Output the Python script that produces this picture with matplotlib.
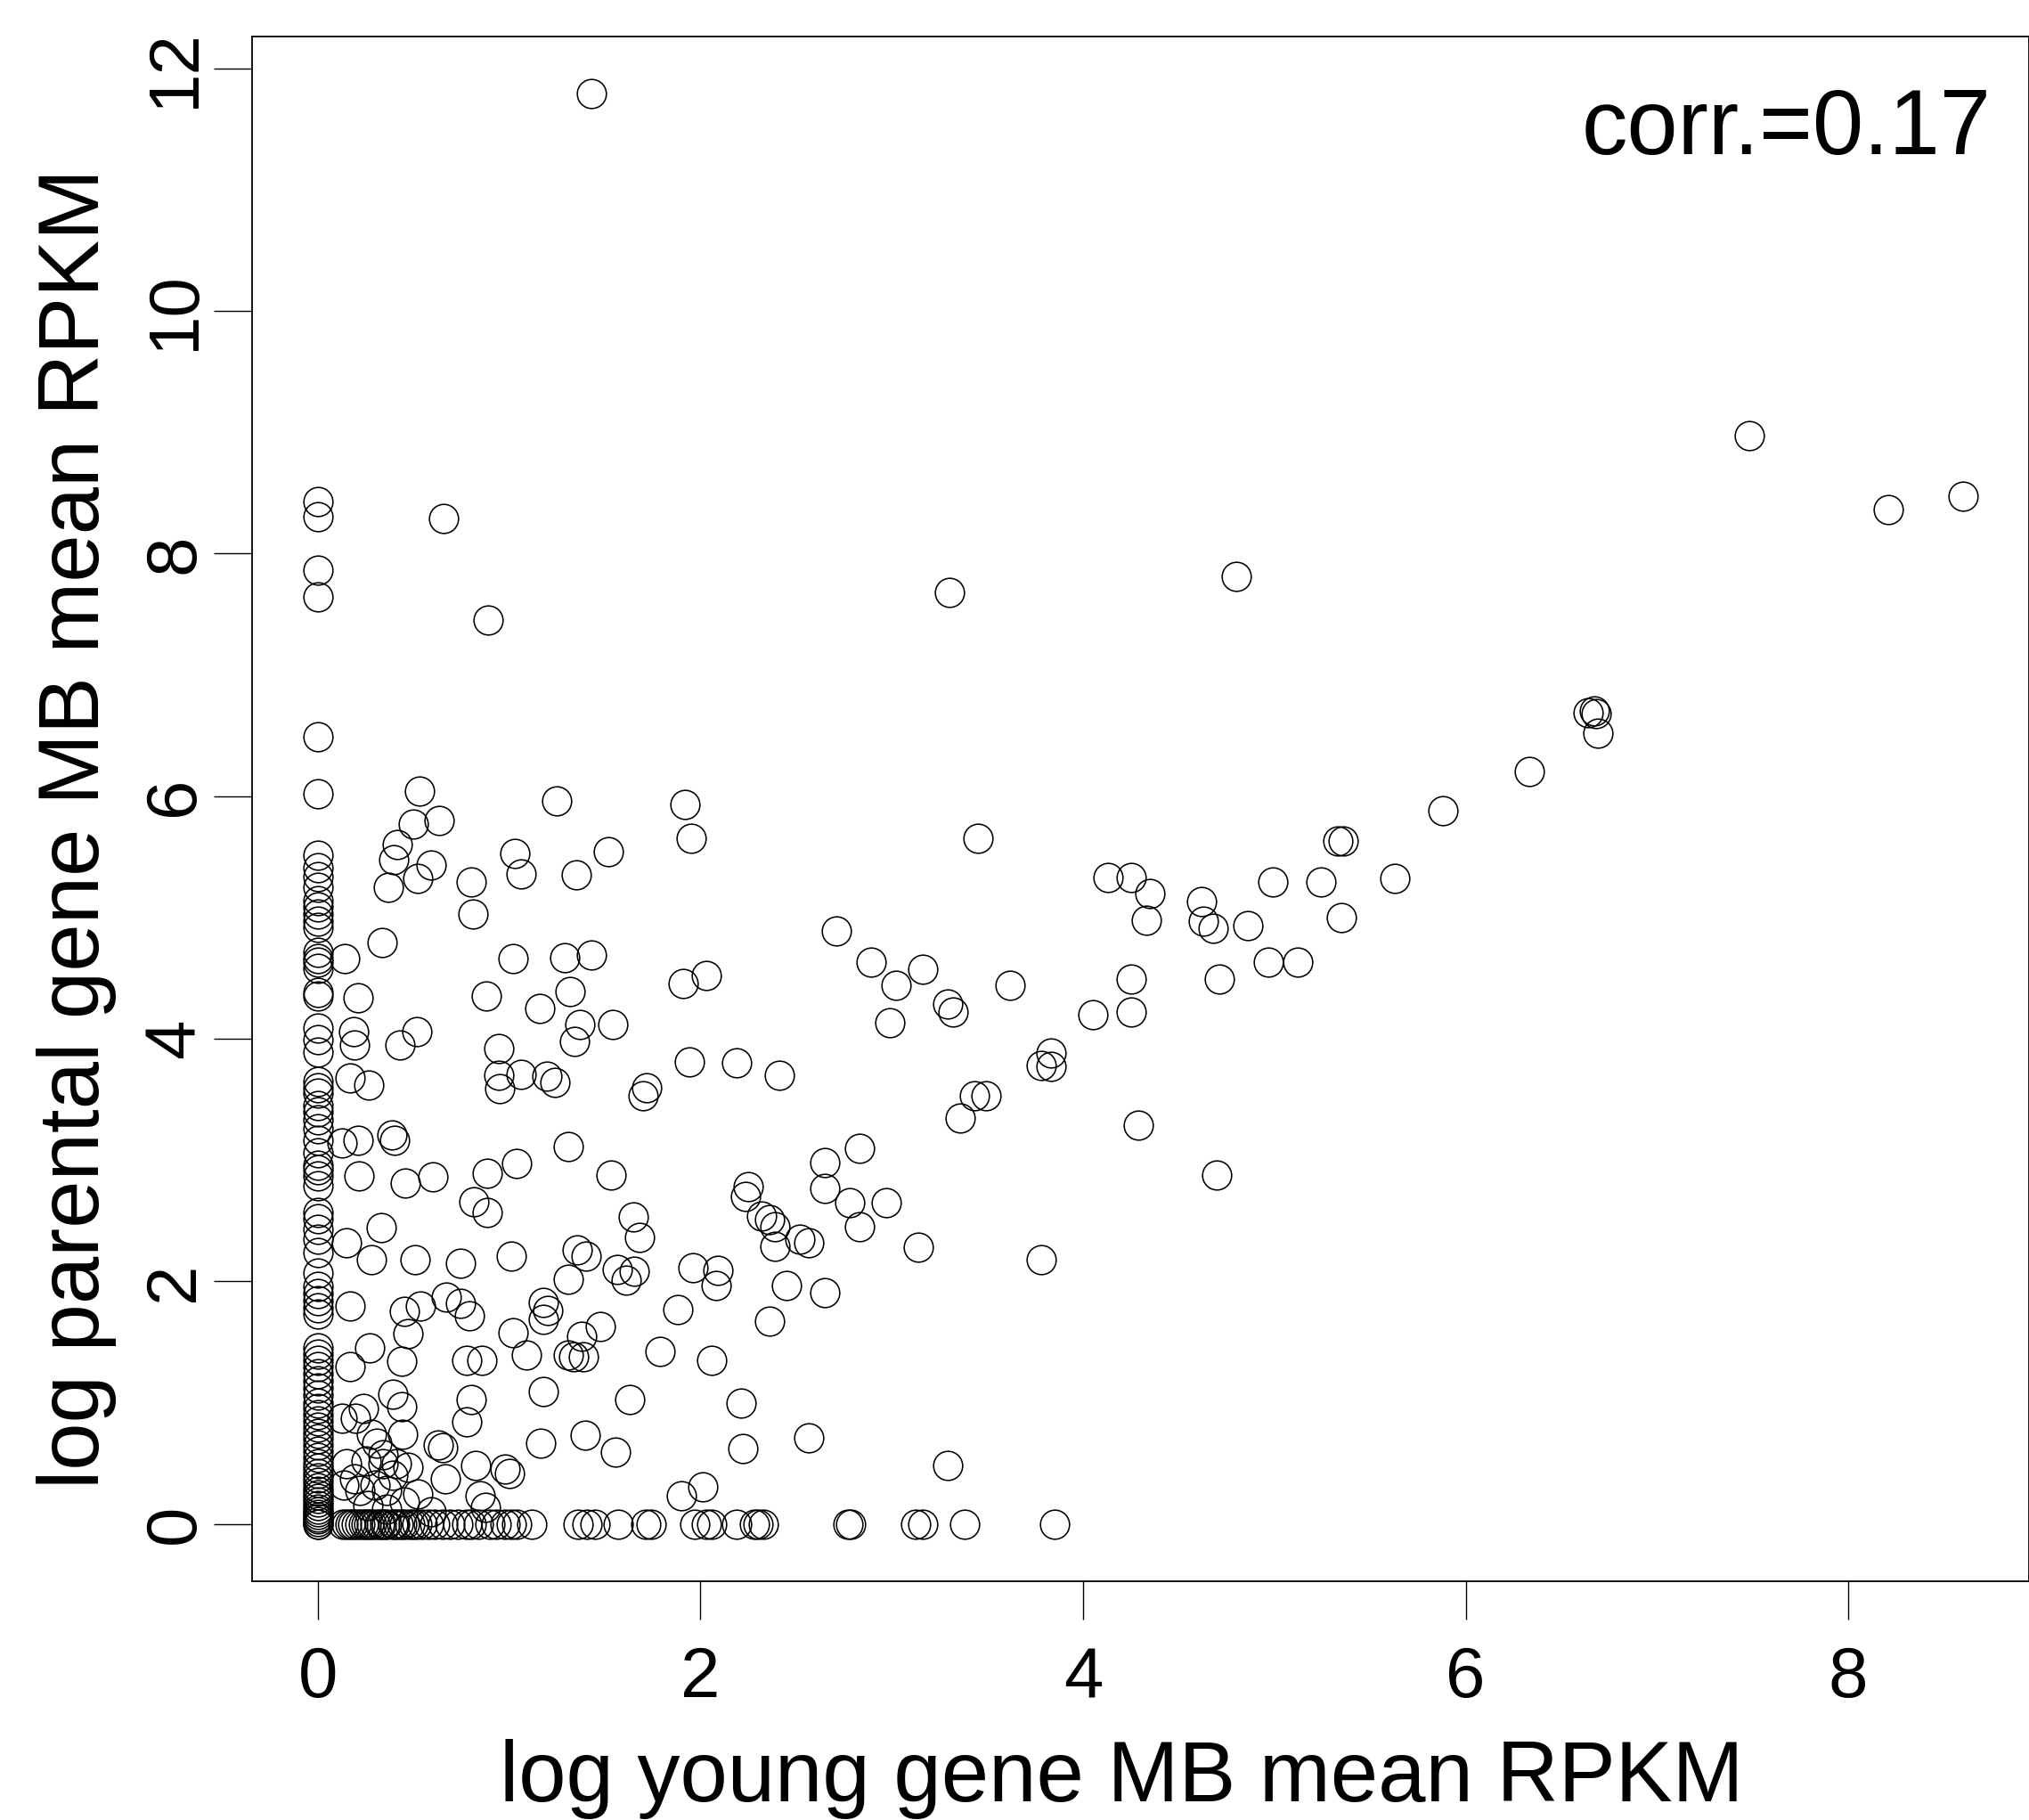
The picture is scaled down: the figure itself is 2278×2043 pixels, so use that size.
import matplotlib
matplotlib.use("Agg")
import matplotlib.pyplot as plt
from matplotlib import font_manager
import numpy as np

plt.rcParams['font.family'] = ['Liberation Sans', 'DejaVu Sans']

# === DATA ===
# genes with young-gene value 0 (column on the y axis)
col_zero_y = [8.43, 8.30, 7.86, 7.64, 6.49, 6.02, 5.51, 5.41, 5.34, 5.25, 5.14, 5.09,
              5.03, 4.97, 4.92, 4.71, 4.66, 4.63, 4.58, 4.38, 4.35, 4.09, 3.99, 3.89,
              3.65, 3.60, 3.55, 3.45, 3.40, 3.33, 3.26, 3.16, 3.06, 2.96, 2.92, 2.87,
              2.79, 2.57, 2.52, 2.43, 2.35, 2.24, 2.07, 1.96, 1.90, 1.84, 1.78, 1.73,
              1.45, 1.40, 1.35, 1.30, 1.24, 1.18, 1.12, 1.06, 1.00, 0.95, 0.90, 0.85,
              0.80, 0.75, 0.70, 0.65, 0.60, 0.55, 0.50, 0.46, 0.42, 0.38, 0.34, 0.30,
              0.27, 0.24, 0.21, 0.18, 0.15, 0.12, 0.10, 0.08, 0.06, 0.04, 0.02, 0.0, 0.0]

# genes with parental-gene value 0 (row on the x axis)
row_zero_x = [0.13, 0.15, 0.17, 0.18, 0.20, 0.22, 0.236, 0.25, 0.266, 0.28, 0.30, 0.32,
              0.33, 0.35, 0.36, 0.39, 0.40, 0.42, 0.44, 0.45, 0.48, 0.50, 0.515, 0.545,
              0.576, 0.61, 0.654, 0.69, 0.73, 0.78, 0.80, 0.84, 0.90, 0.93, 0.98, 1.01,
              1.04, 1.12, 1.36, 1.405, 1.45, 1.57, 1.715, 1.74, 1.97, 2.03, 2.06, 2.19,
              2.28, 2.30, 2.33, 2.77, 2.785, 3.125, 3.16, 3.38, 3.85]

# all other genes
young_x = [7.48, 8.21, 8.60, 4.80, 3.30, 6.64, 6.67, 6.68, 6.69, 6.33, 5.88, 5.33,
           5.36, 5.63, 5.245, 4.99, 5.35, 5.12, 4.97, 4.86, 4.62, 4.63, 4.68, 4.71,
           4.70, 4.13, 4.25, 4.35, 4.33, 4.25, 4.25, 4.05, 4.29, 3.45, 3.62, 3.29,
           3.32, 3.16, 3.02, 2.89, 2.71, 2.99, 3.43, 3.49, 3.355, 3.83, 3.78, 3.83,
           3.78, 2.65, 2.83, 2.65, 2.78, 2.97, 2.83, 3.14, 2.65, 2.565, 3.29, 2.41,
           2.19, 2.25, 2.235, 2.32, 2.36, 2.39, 2.39, 2.52, 2.565, 2.45, 2.36, 2.21,
           2.22, 2.01, 1.90, 2.06, 2.09, 2.08, 1.96, 1.88, 1.79, 1.92, 1.95, 2.03,
           1.91, 1.94, 1.43, 1.52, 1.25, 1.35, 1.43, 1.29, 1.32, 1.37, 1.34, 1.54,
           1.16, 1.06, 1.03, 0.59, 0.52, 0.367, 0.80, 0.81, 1.02, 0.336, 0.14, 0.88,
           0.21, 1.196, 1.24, 1.06, 0.945, 0.945, 0.95, 1.72, 1.70, 0.187, 0.19, 0.43,
           0.516, 0.166, 0.264, 0.127, 0.21, 0.387, 0.40, 1.31, 0.217, 0.459, 0.60, 0.886,
           1.04, 1.53, 0.817, 0.886, 1.65, 1.68, 0.33, 0.15, 0.28, 0.51, 0.747, 1.01,
           1.356, 1.40, 1.31, 1.565, 1.655, 1.61, 0.17, 0.67, 0.747, 0.79, 0.45, 0.535,
           0.47, 1.18, 1.20, 1.18, 1.475, 1.38, 1.02, 0.27, 0.17, 0.437, 0.78, 0.855,
           1.09, 1.31, 1.336, 1.39, 1.18, 1.63, 0.80, 0.78, 0.39, 0.44, 0.24, 0.127,
           0.197, 0.445, 0.63, 0.654, 1.165, 1.395, 1.557, 0.824, 0.98, 1.00, 0.666, 0.85,
           0.875, 0.15, 0.25, 0.34, 0.34, 0.41, 0.47, 0.135, 0.22, 0.30, 0.36, 0.45,
           0.52, 0.59, 0.19, 0.39, 0.28, 0.31, 0.26, 0.36, 0.53, 0.50, 0.634, 0.414,
           0.394, 0.656, 0.89]
parental_y = [8.97, 8.36, 8.47, 7.81, 7.68, 6.69, 6.70, 6.68, 6.52, 6.20, 5.88, 5.63,
              5.63, 5.32, 5.29, 5.29, 5.00, 4.63, 4.63, 4.93, 5.13, 4.97, 4.91, 4.49,
              2.88, 5.33, 5.33, 5.20, 4.98, 4.49, 4.22, 4.20, 3.29, 5.65, 4.44, 4.29,
              4.22, 4.57, 4.44, 4.63, 4.89, 4.13, 3.53, 3.53, 3.35, 3.88, 3.78, 3.77,
              2.18, 2.98, 3.10, 2.77, 2.65, 2.65, 2.45, 2.28, 1.91, 0.71, 0.48, 3.70,
              3.80, 2.78, 2.70, 2.54, 2.51, 2.45, 2.29, 2.35, 2.32, 1.97, 1.67, 1.00,
              0.62, 0.31, 0.23, 1.35, 2.09, 1.97, 2.11, 1.77, 1.42, 5.93, 5.65, 4.52,
              4.455, 3.81, 11.79, 5.54, 5.96, 5.35, 4.69, 4.67, 4.39, 4.12, 3.98, 4.12,
              4.25, 5.36, 5.53, 5.43, 5.32, 5.25, 5.29, 5.03, 4.66, 4.79, 4.66, 4.35,
              4.34, 3.69, 3.64, 3.71, 3.92, 3.70, 3.59, 3.60, 3.53, 4.06, 3.95, 3.95,
              4.06, 3.68, 3.62, 3.14, 3.16, 3.21, 3.16, 3.11, 2.87, 2.81, 2.86, 2.89,
              2.97, 2.88, 2.66, 2.57, 2.53, 2.36, 2.44, 2.32, 2.18, 2.18, 2.15, 2.21,
              2.26, 2.21, 2.02, 2.10, 2.085, 2.01, 1.80, 1.87, 1.82, 1.72, 1.75, 1.80,
              1.57, 1.83, 1.76, 1.69, 1.63, 1.55, 1.58, 1.45, 1.30, 1.34, 1.35, 1.35,
              1.39, 1.39, 1.38, 1.38, 1.09, 1.03, 1.03, 0.84, 1.07, 0.97, 0.95, 0.875,
              0.875, 0.74, 0.655, 0.63, 0.67, 0.73, 0.59, 0.48, 0.45, 0.42, 0.37, 0.23,
              0.14, 0.50, 0.52, 0.57, 0.50, 0.50, 0.47, 0.32, 0.28, 0.32, 0.28, 0.18,
              0.25, 0.10, 0.37, 0.40, 0.74, 0.67, 0.15, 0.12, 6.04, 5.77, 5.80, 5.60,
              5.48, 8.29, 7.45]

corr_text = "corr. = 0.17"
x_ticks = [0, 2, 4, 6, 8]
y_ticks = [0, 2, 4, 6, 8, 10, 12]

# === COMBINE ===
xs = np.concatenate([np.zeros(len(col_zero_y)), np.array(row_zero_x), np.array(young_x)])
ys = np.concatenate([np.array(col_zero_y), np.zeros(len(row_zero_x)), np.array(parental_y)])

# === PLOT ===
W, H = 2278, 2043
fig = plt.figure(figsize=(W / 100, H / 100), dpi=100)
ax = fig.add_axes([283 / W, 1 - 1775 / H, (W - 283) / W, (1775 - 41) / H])

ax.plot(xs, ys, 'o', mfc='none', mec='black', ms=23.5, mew=1.15, ls='none')

# R-style axis range (4% padding)
def r_range(v):
    lo, hi = v.min(), v.max()
    pad = 0.04 * (hi - lo)
    return lo - pad, hi + pad

ax.set_xlim(*r_range(xs))
ax.set_ylim(*r_range(ys))

ax.set_xticks(x_ticks, labels=[str(t) for t in x_ticks])
ax.set_yticks(y_ticks, labels=[str(t) for t in y_ticks], rotation=90, va='center')
ax.tick_params(axis='both', direction='out', length=31, width=1.0,
               labelsize=57.5, colors='black')
ax.tick_params(axis='x', pad=21)
ax.tick_params(axis='y', pad=4)
for sp in ax.spines.values():
    sp.set_linewidth(1.3)
    sp.set_color('black')

fig.text(1259 / W, 21 / H, "log young gene MB mean RPKM", fontsize=69,
         ha='center', va='baseline')
fig.text(111 / W, 1 - 930 / H, "log parental gene MB mean RPKM", fontsize=69,
         ha='center', va='baseline', rotation=90, rotation_mode='anchor')

names = {f.name for f in font_manager.fontManager.ttflist}
if 'Liberation Sans Narrow' in names:
    fig.text(2235 / W, 1 - 173 / H, corr_text, fontsize=81,
             family=['Liberation Sans Narrow', 'DejaVu Sans'], ha='right', va='baseline')
else:
    fig.text(2235 / W, 1 - 173 / H, corr_text.replace(" ", ""), fontsize=74,
             ha='right', va='baseline')

fig.savefig("out.png", dpi=100, facecolor='white')
